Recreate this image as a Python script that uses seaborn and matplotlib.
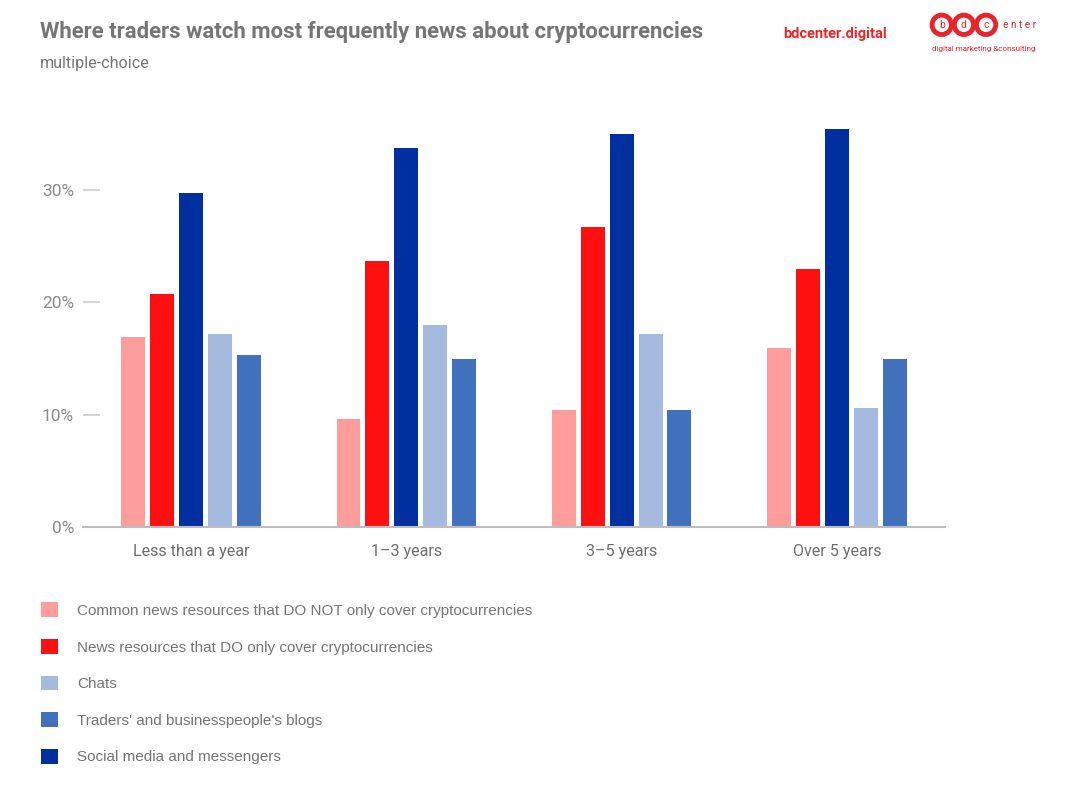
import pandas as pd
import seaborn as sns
import matplotlib.pyplot as plt
from matplotlib.patches import Patch

groups = ['Less than a year', '1–3 years', '3–5 years', 'Over 5 years']
common_news = [16.9, 9.6, 10.4, 15.9]
crypto_news = [20.7, 23.7, 26.7, 23.0]
social_media = [29.7, 33.7, 35.0, 35.4]
chats = [17.2, 18.0, 17.2, 10.6]
blogs = [15.3, 15.0, 10.4, 15.0]

names = {
    'common': 'Common news resources that DO NOT only cover cryptocurrencies',
    'crypto': 'News resources that DO only cover cryptocurrencies',
    'chats': 'Chats',
    'blogs': "Traders' and businesspeople's blogs",
    'social': 'Social media and messengers',
}
colors = {
    'common': '#ff9c9c',
    'crypto': '#fe1010',
    'social': '#002f9f',
    'chats': '#a5badf',
    'blogs': '#4170bd',
}
bar_order = ['common', 'crypto', 'social', 'chats', 'blogs']
legend_order = ['common', 'crypto', 'chats', 'blogs', 'social']

values = {'common': common_news, 'crypto': crypto_news, 'social': social_media,
          'chats': chats, 'blogs': blogs}
rows = []
for key in bar_order:
    for g, v in zip(groups, values[key]):
        rows.append({'Group': g, 'Source': key, 'Share': v})
df = pd.DataFrame(rows)

sns.set_style('white')
plt.rcParams['font.family'] = ['Roboto', 'DejaVu Sans']

fig = plt.figure(figsize=(10.8, 8.01), dpi=100)
ax = fig.add_axes([0.0769, 0.342, 0.798, 0.533])

sns.barplot(data=df, x='Group', y='Share', hue='Source', hue_order=bar_order,
            palette=colors, saturation=1, width=0.67, gap=0.17, legend=False,
            ax=ax, errorbar=None, linewidth=0)

ax.set_ylim(0, 38)
ax.set_xlim(-0.5, 3.5)
ax.set_yticks([0, 10, 20, 30])
ax.set_yticklabels(['0%', '10%', '20%', '30%'])
ax.set_xlabel('')
ax.set_ylabel('')
for s in ['top', 'right', 'left']:
    ax.spines[s].set_visible(False)
ax.spines['bottom'].set_color('#bdbdbd')
ax.spines['bottom'].set_linewidth(1.5)
ax.tick_params(axis='y', left=True, direction='in', length=12, width=1.2,
               color='#cccccc', labelsize=12.5, labelcolor='#8a8a8a', pad=6.5)
ax.tick_params(axis='x', length=0, labelsize=11.6, labelcolor='#6e6e6e', pad=12)

# titles
fig.text(0.037, 0.96, 'Where traders watch most frequently news about cryptocurrencies',
         fontsize=15.9, fontweight='bold', color='#757575', va='center')
fig.text(0.037, 0.921, 'multiple-choice', fontsize=11.6, color='#757575', va='center')

# branding
fig.text(0.725, 0.957, 'bdcenter.digital', fontsize=10.5, fontweight='bold',
         color='#f02424', va='center')
for i, ch in enumerate('bdc'):
    fig.text(0.872 + i * 0.0205, 0.969, ch, fontsize=7.5, color='#e8232a',
             ha='center', va='center',
             bbox=dict(boxstyle='circle,pad=0.45', fc='white', ec='#e8232a', lw=3.5))
fig.text(0.929, 0.969, 'e n t e r', fontsize=7.2, color='#e8232a', va='center')
fig.text(0.863, 0.939, 'digital marketing &consulting', fontsize=5.8,
         color='#e8232a', va='center')

# legend
handles = [Patch(facecolor=colors[k], edgecolor='none') for k in legend_order]
labels = [names[k] for k in legend_order]
leg = fig.legend(handles, labels, loc='upper left', bbox_to_anchor=(0.025, 0.265),
                 frameon=False, handlelength=1.1, handleheight=1.1,
                 handletextpad=1.3, labelspacing=1.38,
                 prop={'family': 'Liberation Sans', 'size': 11})
for t in leg.get_texts():
    t.set_color('#757575')

fig.savefig('out.png', dpi=100)
